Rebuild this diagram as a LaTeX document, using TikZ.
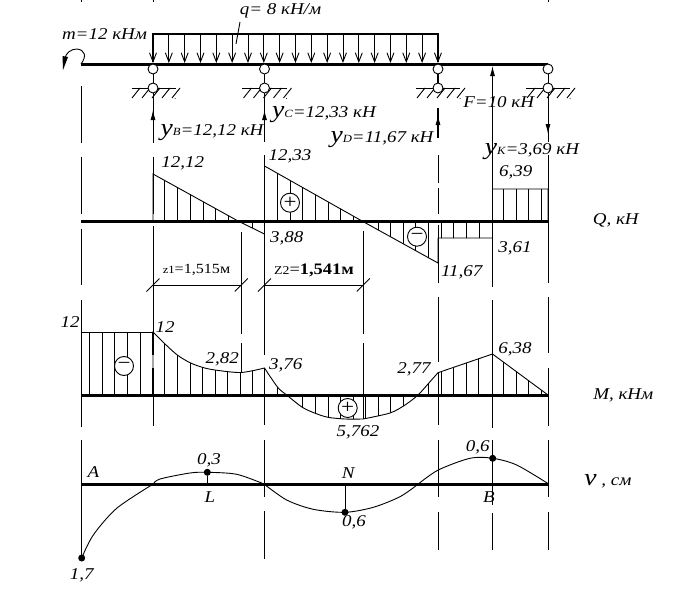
\documentclass[tikz,border=0pt]{standalone}
\usepackage{fontspec}
\setmainfont[FakeStretch=1.15]{Liberation Serif}
\usetikzlibrary{arrows.meta}
\tikzset{
  thin line/.style={line width=0.9pt},
  axis line/.style={line width=3pt},
  load arrow/.style={line width=0.9pt, -{Straight Barb[length=9pt,width=7pt]}},
  tip arrow/.style={line width=0.9pt, -{Latex[length=10pt,width=5pt]}},
  lab/.style={inner sep=0pt, font=\fontsize{16.5}{18}\selectfont\itshape},
  sign/.style={circle, draw, fill=white, line width=0.9pt, minimum size=19pt, inner sep=0pt},
  hinge/.style={circle, draw, fill=white, line width=0.9pt, minimum size=10pt, inner sep=0pt},
  pt/.style={circle, fill=black, minimum size=7pt, inner sep=0pt}
}
\newcommand{\reac}[2]{{\fontsize{24}{24}\selectfont #1}{\fontsize{11}{11}\selectfont #2}}
\def\mcurve{(153,395) -- plot [smooth] coordinates {(153,332) (164.3,343.3) (177.3,355) (190,362.7) (202.3,367.3) (215,370) (241,372.5) (264.5,368)}
  -- plot [smooth] coordinates {(264.5,368) (277.7,387.3) (286.7,395) (302.3,407.3) (315.3,413.3) (328,417.3) (345,419) (363,419)}
  -- plot [smooth] coordinates {(363,419) (390,413) (405,405) (418,395) (428,384) (438,372.7)}
  -- (492.5,354) -- (548,395)}
\def\qcurve{(153,221) -- (153,174) -- (238,221) -- (264.5,234) -- (264.5,166) -- (362,221) -- (438,263) -- (438,238) -- (492.5,238) -- (492.5,189) -- (548,189) -- (548,221)}
\begin{document}
\begin{tikzpicture}[x=1pt, y=-1pt]
  \useasboundingbox (0,0) rectangle (681,589);
  % cut lines
  \foreach \x/\a/\b in {81.5/0/1.5, 81.5/86/143, 81.5/157/214, 81.5/229/285, 81.5/300/427, 81.5/440/558,
      153/0/1.5, 153/93/143, 153/157/214, 153/226/355, 153/368/426,
      241.3/232/334, 241.3/343/372,
      264.5/74/142, 264.5/155/214, 264.5/221/355, 264.5/368/425, 264.5/440/497, 264.5/511/559,
      363.3/231/334, 363.3/343/419,
      438/155/183, 438/188/214, 438/225/283, 438/297/362, 438/372/425, 438/440/497, 438/512/550,
      492.5/80/287, 492.5/300/428, 492.5/440/505, 492.5/513/550,
      548/0/1.5, 548/93/142, 548/155/283, 548/297/353, 548/368/426, 548/440/497, 548/512/550}
    \draw[thin line] (\x,\a) -- (\x,\b);
  \foreach \a/\b/\c in {153/332/355, 153/368/395, 264.5/166/221, 264.5/368/395, 492.5/221/238, 492.5/372/395, 438/108/138, 438/74/83}
    \draw[line width=1.8pt] (\a,\b) -- (\a,\c);
  \draw[thin line] (153,74) -- (153,83);
  \draw[thin line] (548,74) -- (548,83);
  % load
  \draw[line width=1.2pt] (153,62) -- (153,34) -- (438,34) -- (438,62);
  \foreach \i in {0,...,18}
    \draw[load arrow] ({153+\i*15.83},34) -- ({153+\i*15.83},63);
  \draw[thin line] (240,22) -- (236,44);
  % moment
  \draw[thin line] (81,64) .. controls (87,56) and (85,50) .. (77,49) .. controls (71,49) and (66,53) .. (65,58);
  \fill (63,70) -- (62.5,56) -- (68,57) -- cycle;
  % beam and supports
  \draw[axis line] (81,64) -- (548,64);
  \foreach \x/\l/\r in {153/132/176, 264.5/242.3/286.7, 438/416/460, 548/526/570} {
    \draw[thin line] (\l,88) -- (\r,88);
    \foreach \i in {0,...,4}
      \draw[thin line] ({\x-21+\i*10},98) -- ({\x-13+\i*10},88);
    \fill ({\x+22},98.5) circle (0.5pt);
    \node[hinge] at (\x,69) {};
    \node[hinge] at (\x,88) {};
  }
  % reactions
  \draw[tip arrow] (153,125) -- (153,110);
  \draw[tip arrow] (264.5,125) -- (264.5,110);
  \draw[tip arrow] (438,127) -- (438,115);
  \draw[tip arrow] (492.5,90) -- (492.5,66);
  \draw[tip arrow] (548,118) -- (548,134);
  % Q diagram
  \begin{scope}
    \clip \qcurve -- cycle;
    \foreach \x in {164,177,190,203,215.5,228,243,252.7,277.7,290,302.3,315.3,328,340,353.3,378,390,403,415.6,428.6,441,453.3,466,479,503.3,516,528.6,541.6}
      \draw[thin line] (\x,150) -- (\x,270);
  \end{scope}
  \draw[thin line] \qcurve;
  \draw[axis line] (81,221) -- (549,221);
  \node[sign] (qp) at (290,202.7) {\fontsize{20}{20}\selectfont +};
  \node[sign] (qm) at (417,236.7) {\fontsize{20}{20}\selectfont −};
  % dimensions
  \draw[thin line] (153,285) -- (241.3,285);
  \draw[thin line] (264.5,285) -- (363.3,285);
  \foreach \x in {153,241.3,264.5,363.3}
    \draw[thin line] ({\x-6.5},291.5) -- ({\x+6.5},278.5);
  % M diagram
  \foreach \x in {89.3,102.3,114.7,127.3,140}
    \draw[thin line] (\x,332) -- (\x,395);
  \draw[thin line] (81.5,332) -- (153,332);
  \begin{scope}
    \clip \mcurve -- cycle;
    \foreach \x in {164.3,177.3,190,202.3,215,227.3,240.7,252.7,277.7,302,315.3,328,340,353.3,365,378.3,390,403.3,428,441,453.3,466.7,478.3,503.3,516.7,528.7,541.3}
      \draw[thin line] (\x,340) -- (\x,430);
  \end{scope}
  \draw[thin line] \mcurve;
  \draw[axis line] (81,395) -- (549,395);
  \node[sign] (mm) at (124,366) {\fontsize{20}{20}\selectfont −};
  \node[sign] (mp) at (347.7,408) {\fontsize{20}{20}\selectfont +};
  % v diagram
  \draw[axis line] (81,484) -- (549,484);
  \draw[thin line] plot [smooth] coordinates {(81.7,558) (93.3,535) (116.7,508.3) (153.3,484)};
  \draw[thin line] plot [smooth] coordinates {(153.3,484) (160,479) (190,473) (207.3,472.3) (236.7,474.3) (264,484)};
  \draw[thin line] plot [smooth] coordinates {(264,484) (286.7,500) (313.3,509.3) (345,512.3) (373.3,507.3) (400,496.7) (418.3,484)};
  \draw[thin line] plot [smooth] coordinates {(418.3,484) (438.3,470) (470,458.3) (492.7,458.3) (516.7,465) (548.7,484)};
  \node[pt] (v1) at (81.7,558) {};
  \node[pt] (v2) at (207.3,472.3) {};
  \node[pt] (v3) at (345,512.3) {};
  \node[pt] (v4) at (492.7,458.3) {};
  \coordinate (a2) at (207.3,484);
  \coordinate (a3) at (345,484);
  \draw[thin line] (v2) -- (a2);
  \draw[thin line] (v3) -- (a3);
  % labels
  \node[lab] (lm) at (104.5,34) {m=12 кНм};
  \node[lab] (lq) at (280.5,11) {q= 8 кН/м};
  \node[lab] (yb) at (212,133) {\reac{y}{B}=12,12 кН};
  \node[lab] (yc) at (324,115) {\reac{y}{C}=12,33 кН};
  \node[lab] (yd) at (382,140) {\reac{y}{D}=11,67 кН};
  \node[lab] (lf) at (498.7,102) {F=10 кН};
  \node[lab] (yk) at (532,152) {\reac{y}{K}=3,69 кН};
  \node[lab] (q1) at (182.7,163) {12,12};
  \node[lab] (q2) at (290,156) {12,33};
  \node[lab] (q3) at (286.7,238) {3,88};
  \node[lab] (q4) at (515.7,172) {6,39};
  \node[lab] (q5) at (515,248) {3,61};
  \node[lab] (q6) at (461.7,272) {11,67};
  \node[lab] (lqq) at (615.7,220) {Q, кН};
  \node[inner sep=0pt, font=\fontsize{14}{16}\selectfont] (z1) at (196.5,270) {{\fontsize{11}{11}\selectfont z1}=1,515м};
  \node[inner sep=0pt, font=\fontsize{16}{16}\selectfont] (z2) at (314,270) {{\fontsize{12}{12}\selectfont Z2}={\bfseries 1,541м}};
  \node[lab] (m1) at (70,321.7) {12};
  \node[lab] (m2) at (165,326.7) {12};
  \node[lab] (m3) at (222.3,359.3) {2,82};
  \node[lab] (m4) at (285.7,365) {3,76};
  \node[lab] (m5) at (358,432) {5,762};
  \node[lab] (m6) at (414,369.3) {2,77};
  \node[lab] (m7) at (515,349) {6,38};
  \node[lab] (lmm) at (623.3,395) {М, кНм};
  \node[lab] (na) at (93.3,472.3) {A};
  \node[lab] (v03) at (209,460) {0,3};
  \node[lab] (nl) at (210,496.7) {L};
  \node[lab] (nn) at (348.3,473.3) {N};
  \node[lab] (v06) at (354,522.7) {0,6};
  \node[lab] (v17) at (81.7,575) {1,7};
  \node[lab] (v07) at (477.7,447.3) {0,6};
  \node[lab] (nb) at (489,497.3) {B};
  \node[lab] (lv) at (608,481) {{\fontsize{24}{24}\selectfont v} , см};
\end{tikzpicture}
\end{document}
